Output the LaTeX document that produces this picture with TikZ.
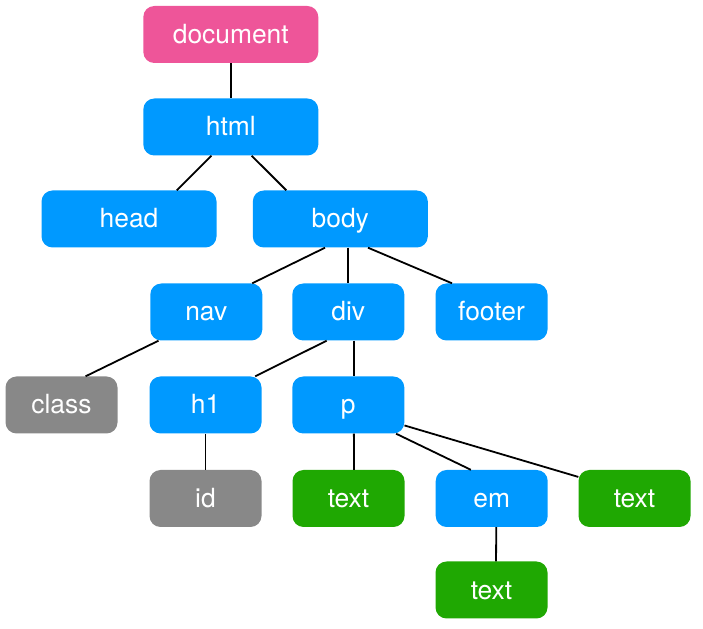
\documentclass[tikz,border=0pt]{standalone}
\usepackage{fontspec}
\setmainfont{TeX Gyre Heros}
\usepackage{tikz}
\usetikzlibrary{arrows.meta}
\usetikzlibrary{shapes}
\definecolor{domblue}{HTML}{0099FF}
\definecolor{dompink}{HTML}{EE5599}
\definecolor{domgreen}{HTML}{1FA802}
\definecolor{domgray}{HTML}{888888}

\begin{document}
\begin{tikzpicture}[line join=bevel,
  tag/.style={draw=none,rounded corners=11bp,text=white,minimum height=57bp,
    font=\fontsize{26.5}{30}\selectfont,inner sep=0pt,
    text height=20bp,text depth=2bp},
  wide/.style={tag,minimum width=175bp},
  narrow/.style={tag,minimum width=112bp},
  edge/.style={black,line width=1.8bp},
]
%%
\useasboundingbox (0bp,0bp) rectangle (703bp,629bp);
\node (node_doc) at (230.8bp,594.5bp) [wide,fill=dompink] {document};
  \node (node_html) at (230.8bp,502bp) [wide,fill=domblue] {html};
  \node (node_head) at (129bp,410bp) [wide,fill=domblue] {head};
  \node (node_body) at (340.3bp,410bp) [wide,fill=domblue] {body};
  \node (node_nav) at (206.3bp,317bp) [narrow,fill=domblue] {nav};
  \node (node_div) at (348.3bp,317bp) [narrow,fill=domblue] {div};
  \node (node_footer) at (491.5bp,317bp) [narrow,fill=domblue] {footer};
  \node (node_class) at (61.5bp,224bp) [narrow,fill=domgray] {class};
  \node (node_h1) at (205.5bp,224bp) [narrow,fill=domblue] {h1};
  \node (node_p) at (348.3bp,224bp) [narrow,fill=domblue] {p};
  \node (node_id) at (205.5bp,130.5bp) [narrow,fill=domgray] {id};
  \node (node_text1) at (348.5bp,130.5bp) [narrow,fill=domgreen] {text};
  \node (node_em) at (491.7bp,130.5bp) [narrow,fill=domblue] {em};
  \node (node_text2) at (634.5bp,130.5bp) [narrow,fill=domgreen] {text};
  \node (node_text3) at (491.5bp,39bp) [narrow,fill=domgreen] {text};
  \draw [edge] (node_doc) -- (node_html);
  \draw [edge] (node_html.-124) -- (node_head.31);
  \draw [edge] (node_html.-54) -- (node_body.152);
  \draw [edge] (node_body.-118) -- (node_nav.32);
  \draw [edge] (node_body.south -| node_div.north) -- (node_div.north);
  \draw [edge] (node_body.-46) -- (node_footer.144);
  \draw [edge] (node_nav.-149) -- (node_class.50);
  \draw [edge] (node_div.-127) -- (node_h1.30);
  \draw [edge] (node_div.-79) -- (node_p.79);
  \draw [edge] (node_h1) -- (node_id);
  \draw [edge] (node_p.-79) -- (node_text1.79);
  \draw [edge] (node_p.-31) -- (node_em.126);
  \draw [edge] (node_p.-20) -- (node_text2.159);
  \draw [edge] (node_em.-81) -- (node_text3.81);
%
\end{tikzpicture}
\end{document}
